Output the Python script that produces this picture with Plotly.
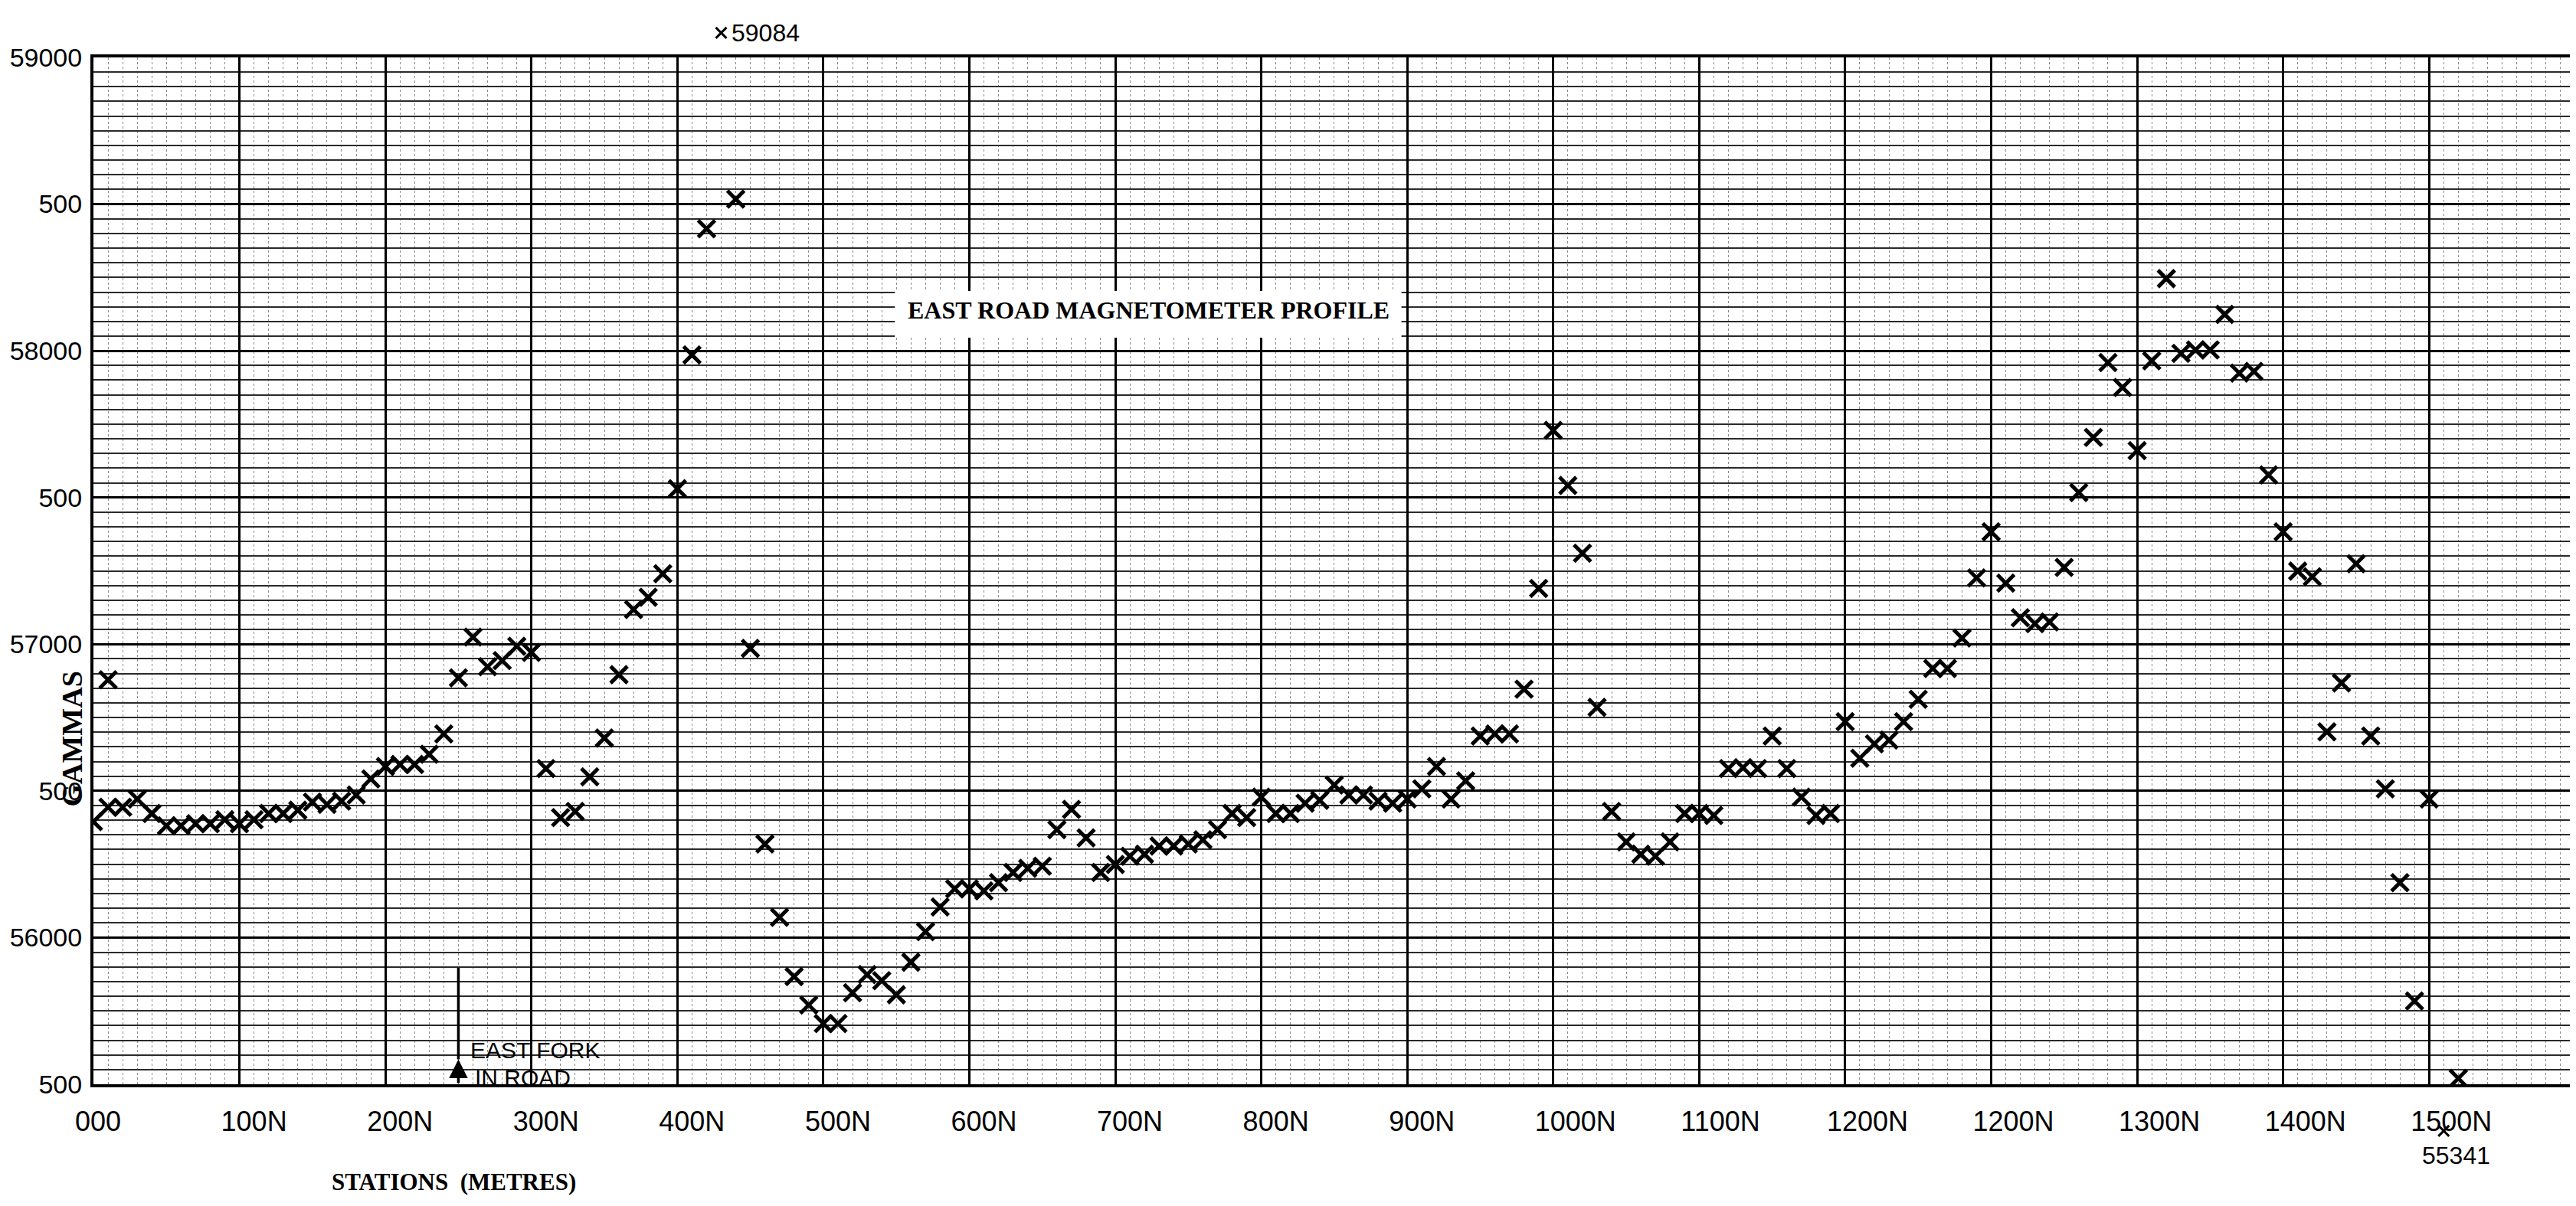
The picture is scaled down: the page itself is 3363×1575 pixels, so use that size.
import plotly.graph_objects as go

# ---- data (station in metres, total field in gammas) ----
stations = [0, 10, 20, 30, 40, 50, 60, 70, 80, 90, 100, 110, 120, 130, 140, 150, 160, 170, 180, 190,
            200, 210, 220, 230, 240, 250, 260, 270, 280, 290, 300, 310, 320, 330, 340, 350, 360, 370, 380, 390,
            400, 410, 420, 440, 450, 460, 470, 480, 490, 500, 510, 520, 530, 540, 550, 560, 570, 580, 590,
            600, 610, 620, 630, 640, 650, 660, 670, 680, 690, 700, 710, 720, 730, 740, 750, 760, 770, 780, 790,
            800, 810, 820, 830, 840, 850, 860, 870, 880, 890, 900, 910, 920, 930, 940, 950, 960, 970, 980, 990,
            1000, 1010, 1020, 1030, 1040, 1050, 1060, 1070, 1080, 1090, 1100, 1110, 1120, 1130, 1140, 1150, 1160,
            1170, 1180, 1190, 1200, 1210, 1220, 1230, 1240, 1250, 1260, 1270, 1280, 1290, 1300, 1310, 1320, 1330,
            1340, 1350, 1360, 1370, 1380, 1390, 1400, 1410, 1420, 1430, 1440, 1450, 1460, 1470, 1480, 1490, 1500,
            1510, 1520, 1530, 1540, 1550, 1560, 1570, 1580, 1590, 1600, 1620]
gammas = [56395, 56444, 56444, 56472, 56423, 56381, 56381, 56388, 56388, 56402, 56388, 56402, 56423, 56423,
          56434, 56462, 56454, 56465, 56486, 56541, 56583, 56590, 56590, 56625, 56694, 56885, 57024, 56923,
          56944, 56993, 56972, 56576, 56409, 56430, 56548, 56680, 56896, 57118, 57160, 57240, 57530, 57986,
          58416, 58517, 56986, 56319, 56069, 55867, 55770, 55707, 55707, 55812, 55874, 55853, 55805, 55916,
          56020, 56104, 56166, 56166, 56159, 56187, 56222, 56236, 56243, 56368, 56437, 56340, 56222, 56249,
          56277, 56284, 56312, 56312, 56319, 56333, 56368, 56423, 56409, 56479, 56423, 56423, 56458, 56468,
          56520, 56486, 56486, 56465, 56458, 56472, 56507, 56583, 56472, 56534, 56687, 56694, 56694, 56847,
          57190, 57729, 57541, 57310, 56785, 56430, 56326, 56284, 56277, 56326, 56423, 56423, 56416, 56576,
          56579, 56576, 56687, 56576, 56479, 56416, 56423, 56736, 56611, 56660, 56673, 56736, 56812, 56917,
          56917, 57021, 57226, 57383, 57208, 57090, 57070, 57076, 57262, 57517, 57705, 57960, 57875, 57660,
          57966, 58246, 57991, 58003, 58003, 58124, 57924, 57930, 57577, 57383, 57249, 57230, 56701, 56868,
          57274, 56687, 56507, 56187, 55784, 56472, 55520]

# repeat reading at station 10
repeat_stations = [10]
repeat_gammas = [56879]

# off-scale readings, written next to their marks outside the grid
offscale_stations = [430, 1610]
offscale_gammas = [59084, 55341]
offscale_labels = ["59084", "55341"]

x_range = [0, 1698]
y_range = [55500, 59000]
x_tick_vals = [0, 100, 200, 300, 400, 500, 600, 700, 800, 900, 1000, 1100, 1200, 1300, 1400, 1500, 1600]
x_tick_text = ["000", "100N", "200N", "300N", "400N", "500N", "600N", "700N", "800N", "900N",
               "1000N", "1100N", "1200N", "1200N", "1300N", "1400N", "1500N"]
y_tick_vals = [55500, 56000, 56500, 57000, 57500, 58000, 58500, 59000]
y_tick_text = ["500", "56000", "500", "57000", "500", "58000", "500", "59000"]

fork_station = 250

SANS = "Liberation Sans"
SERIF = "Liberation Serif"

fig = go.Figure()

mk = dict(symbol="x-thin", size=22, color="black", line=dict(color="black", width=5))

fig.add_trace(go.Scatter(x=stations, y=gammas, mode="markers", marker=mk, showlegend=False))
fig.add_trace(go.Scatter(x=repeat_stations, y=repeat_gammas, mode="markers", marker=mk, showlegend=False))

# off-scale readings: x through the station axis, y through the y-axis domain (outside the grid)
label_shift = [dict(xanchor="left", yanchor="middle", xshift=12, yshift=0),
               dict(xanchor="center", yanchor="top", xshift=16, yshift=-12)]
for s, g, lab, sh in zip(offscale_stations, offscale_gammas, offscale_labels, label_shift):
    yd = (g - y_range[0]) / (y_range[1] - y_range[0])
    fig.add_shape(type="path", xref="x", yref="y domain", xsizemode="pixel", ysizemode="pixel",
                  xanchor=s, yanchor=yd, path="M-7,-7L7,7M-7,7L7,-7",
                  line=dict(color="black", width=3))
    fig.add_annotation(x=s, y=yd, xref="x", yref="y domain", text=lab, showarrow=False,
                       font=dict(family=SANS, size=32, color="black"), **sh)

# title box and title
fig.add_shape(type="rect", x0=549, x1=896, y0=58045, y1=58204, xref="x", yref="y",
              fillcolor="white", line=dict(width=0), layer="above")
fig.add_annotation(x=723, y=58139, xref="x", yref="y", text="<b>EAST ROAD MAGNETOMETER PROFILE</b>",
                   showarrow=False, font=dict(family=SERIF, size=32, color="black"))

# East fork arrow
fig.add_shape(type="line", x0=fork_station, x1=fork_station, y0=55585, y1=55897, xref="x", yref="y",
              line=dict(color="black", width=3.5), layer="above")
fig.add_annotation(x=fork_station, y=55585, ax=fork_station, ay=55500, xref="x", yref="y",
                   axref="x", ayref="y", text="", showarrow=True, arrowhead=2, arrowsize=1.4,
                   arrowwidth=3.5, arrowcolor="black")
fig.add_annotation(x=257, y=55617, xref="x", yref="y", text="EAST FORK", showarrow=False,
                   xanchor="left", font=dict(family=SANS, size=30, color="black"))
fig.add_annotation(x=260, y=55522, xref="x", yref="y", text="IN ROAD", showarrow=False,
                   xanchor="left", font=dict(family=SANS, size=30, color="black"))

# axis titles
fig.add_annotation(x=-0.0085, y=56677, xref="paper", yref="y", text="<b>GAMMAS</b>", textangle=-90,
                   showarrow=False, xanchor="center", yanchor="middle",
                   font=dict(family=SERIF, size=38, color="black"))
fig.add_annotation(x=247, y=-0.095, xref="x", yref="paper", text="<b>STATIONS  (METRES)</b>",
                   showarrow=False, xanchor="center", yanchor="middle",
                   font=dict(family=SERIF, size=31, color="black"))

fig.update_xaxes(
    range=x_range, tickmode="array", tickvals=x_tick_vals, ticktext=x_tick_text,
    ticklabelposition="outside right", ticklabelstandoff=14, ticklabelshift=-26, automargin=False,
    tickfont=dict(family=SANS, size=36, color="black"),
    showgrid=True, gridcolor="black", gridwidth=3,
    minor=dict(tickmode="linear", tick0=0, dtick=10, showgrid=True, gridcolor="#8a8a8a",
               gridwidth=1.3, griddash="dot"),
    showline=True, linecolor="black", linewidth=4, mirror=True, zeroline=False, ticks="")
fig.update_yaxes(
    range=y_range, tickmode="array", tickvals=y_tick_vals, ticktext=y_tick_text,
    tickfont=dict(family=SANS, size=34, color="black"), automargin=False,
    showgrid=True, gridcolor="black", gridwidth=3,
    minor=dict(tickmode="linear", tick0=55500, dtick=50, showgrid=True, gridcolor="#2a2a2a",
               gridwidth=1.8),
    showline=True, linecolor="black", linewidth=4, mirror=True, zeroline=False, ticks="",
    ticklabelstandoff=4)

fig.update_layout(
    width=3363, height=1575, margin=dict(l=114, r=13, t=67, b=167),
    plot_bgcolor="white", paper_bgcolor="white", showlegend=False)

fig.write_html("out.html")
